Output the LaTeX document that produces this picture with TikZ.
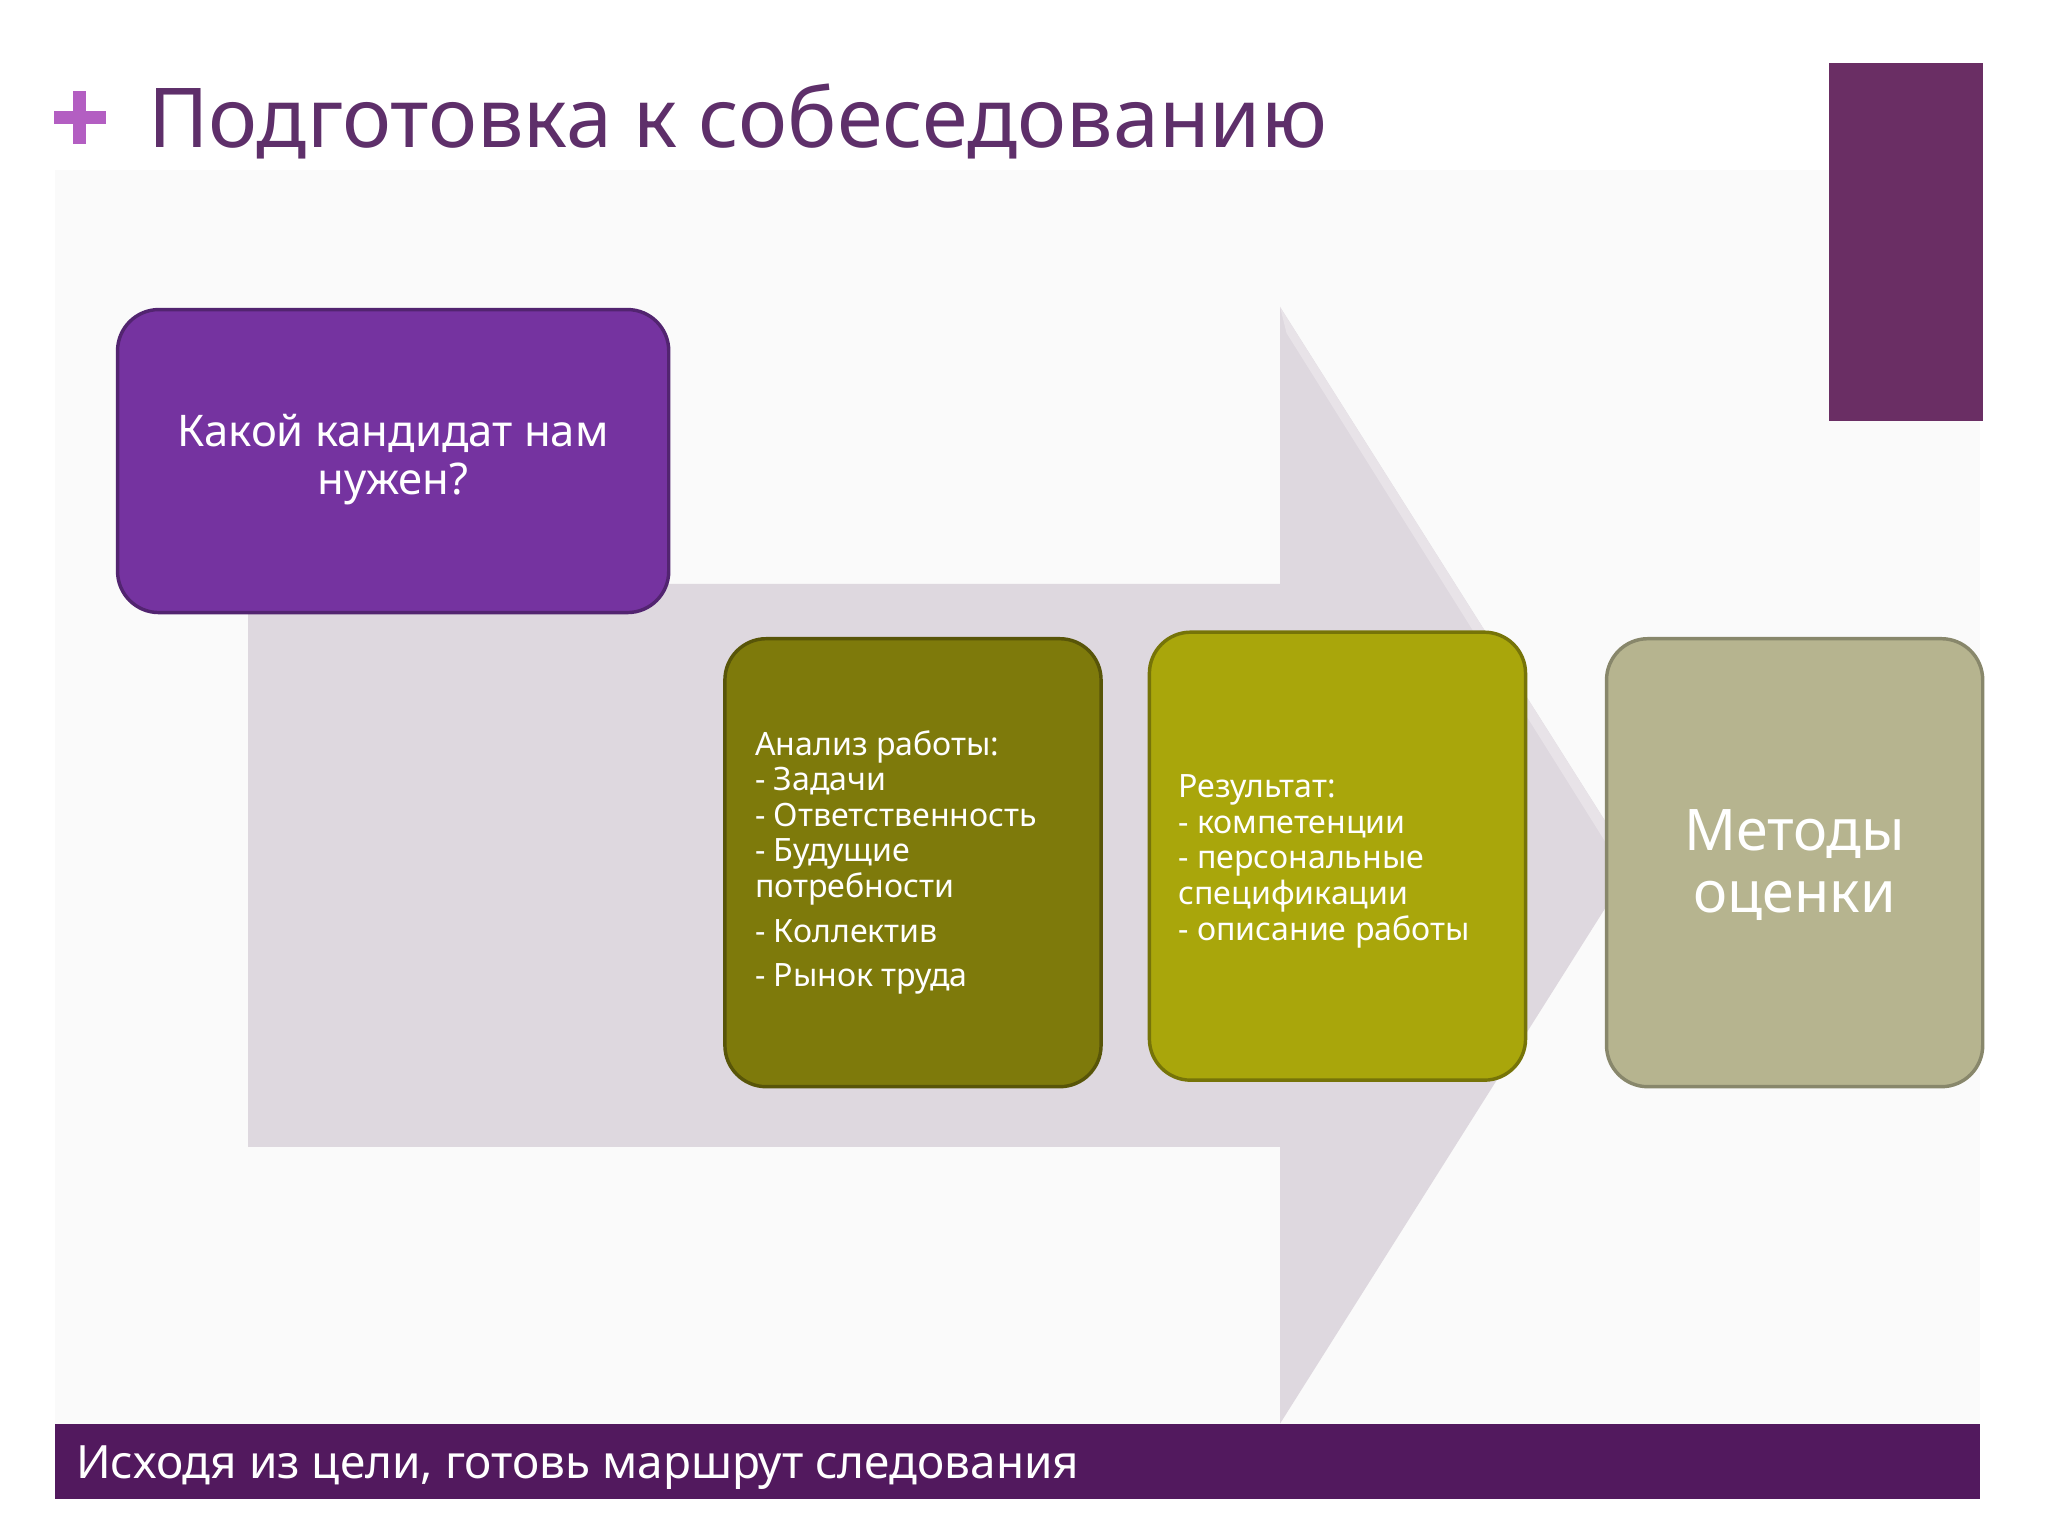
\documentclass[tikz,border=0pt]{standalone}
\usepackage{fontspec}
\setmainfont{Noto Sans}
\begin{document}
\begin{tikzpicture}[x=0.02cm,y=-0.02cm,
  box/.style={rounded corners=18pt,line width=1.5pt},
  txt/.style={text=white,font=\fontsize{14pt}{15.5pt}\selectfont,align=left,anchor=north west}]
\definecolor{ttl}{HTML}{5E2F6A}
\definecolor{plusc}{HTML}{B35EC2}
\definecolor{barc}{HTML}{52195E}
\definecolor{rectc}{HTML}{6A2E64}
\definecolor{arr}{HTML}{D8D1D9}
\definecolor{b1}{HTML}{7533A0}
\definecolor{b2}{HTML}{7E7A0B}
\definecolor{b3}{HTML}{A9A60B}
\definecolor{b4}{HTML}{B6B48F}
\useasboundingbox (0,0) rectangle (1568,1176);
\fill[white] (0,0) rectangle (1568,1176);
\fill[black!2] (42,130) rectangle (1516,1090);
% plus
\fill[plusc] (56,70) rectangle (66,110);
\fill[plusc] (41,85) rectangle (81,95);
\node[anchor=base west,text=ttl,font=\fontsize{36pt}{40pt}\selectfont,inner sep=0] (title) at (113,113) {Подготовка к собеседованию};
\fill[rectc] (1400,48) rectangle (1518,322);
% arrow
\fill[arr!85!white] (190,447) -- (980,447) -- (980,235) -- (1250,662) -- (980,1090) -- (980,878) -- (190,878) -- cycle;
\fill[arr!60!white] (980,235) -- (1250,662) -- (1240,662) -- (985,255) -- cycle;
% bar
\fill[barc] (42,1090) rectangle (1516,1148);
\node[anchor=base west,text=white,font=\fontsize{20pt}{24pt}\selectfont,inner sep=0] (bar) at (58,1132) {Исходя из цели, готовь маршрут следования};
% boxes
\draw[box,fill=b1,draw=b1!70!black] (90,237) rectangle (512,469);
\node[text=white,align=center,font=\fontsize{19pt}{21pt}\selectfont] (t1) at (301,352) {Какой кандидат нам\\нужен?};
\draw[box,fill=b2,draw=b2!70!black] (555,489) rectangle (843,832);
\node[txt] (t2) at (572,553) {\textbf{Анализ работы}:\\- Задачи\\- Ответственность\\- Будущие\\потребности\\[4pt]- Коллектив\\[4pt]- Рынок труда};
\draw[box,fill=b3,draw=b3!70!black] (880,484) rectangle (1168,827);
\node[txt] (t3) at (896,587) {\textbf{Результат}:\\- компетенции\\- персональные\\спецификации\\- описание работы};
\draw[box,fill=b4,draw=b4!75!black] (1230,489) rectangle (1518,832);
\node[text=white,align=center,font=\fontsize{25pt}{27pt}\selectfont] (t4) at (1374,662) {Методы\\оценки};
\end{tikzpicture}
\end{document}
